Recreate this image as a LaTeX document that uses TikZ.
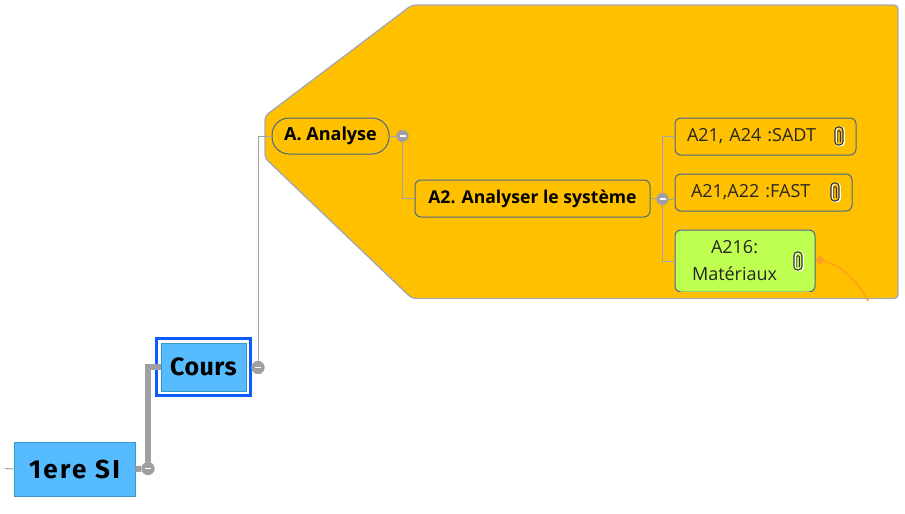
\documentclass[tikz,border=0pt]{standalone}
\usepackage{fontspec}
\setmainfont{Open Sans}
\newfontfamily\comicf[LetterSpace=2]{Fira Sans}
\newfontfamily\comicw[LetterSpace=9]{Fira Sans}
\usetikzlibrary{calc}
\definecolor{zone}{HTML}{FFC000}
\definecolor{zoneline}{HTML}{A9A9A9}
\definecolor{conn}{HTML}{A0A4AE}
\definecolor{edge}{HTML}{47698C}
\definecolor{skyb}{HTML}{57BCFF}
\definecolor{skyedge}{HTML}{3C96C8}
\definecolor{limeb}{HTML}{BEFF50}
\definecolor{selb}{HTML}{0A5CFF}
\definecolor{hot}{HTML}{FF9E20}
\definecolor{greyc}{HTML}{A0A0A2}
\tikzset{
 x=1pt,y=-1pt,
 sub/.style={draw=edge,line width=1pt,rounded corners=6pt,minimum height=37pt,inner sep=0pt,font=\fontsize{18}{21}\selectfont,text=black!85},
 mainb/.style={sub,font=\fontsize{17.6}{21}\selectfont\bfseries,text=black},
 rootb/.style={draw=skyedge,fill=skyb,line width=.8pt,inner sep=0pt},
 link/.style={draw=conn,line width=1pt},
 toggle/.style={circle,fill=greyc,minimum size=12pt,inner sep=0pt,path picture={\draw[white,line width=1.3pt] ($(path picture bounding box.center)+(-3pt,0)$) -- ($(path picture bounding box.center)+(3pt,0)$);}},
 clip/.pic={
  \draw[white,line width=1.6pt,rounded corners=3pt] (-3,-8.5) rectangle (5,9.5);
  \draw[black!80,line width=1.1pt,rounded corners=3.5pt] (-4,-9) rectangle (4,9);
  \draw[black!80,line width=.9pt,rounded corners=1.2pt] (-1.3,6) -- (-1.3,-5.5) -- (1.3,-5.5) -- (1.3,6);
 }
}
\begin{document}
\begin{tikzpicture}
\useasboundingbox (0,0) rectangle (905,514);
\draw[zoneline,fill=zone,line width=1.4pt,rounded corners=4pt]
  (412,5) -- (898,5) -- (898,298.5) -- (412,298.5) -- (265,158) -- (265,116) -- cycle;

\node[mainb,rounded corners=17pt,minimum width=117pt,minimum height=36pt,font=\fontsize{18}{21}\selectfont\bfseries] (ana) at (330.5,136) {A. Analyse};
\node[mainb,minimum width=235pt] (sys) at (532.5,198.5) {A2. Analyser le système};
\node[sub,minimum width=181pt,text width=181pt,align=left] (sadt) at (765.5,136.5) {\hspace{12pt}A21, A24 :SADT};
\node[sub,minimum width=177pt,text width=177pt,align=left] (fast) at (763.5,192.5) {\hspace{16pt}A21,A22 :FAST};
\node[sub,fill=limeb,minimum width=140pt,minimum height=62pt,text width=140pt,align=left,
      font=\fontsize{18}{27}\selectfont] (mat) at (745,261) {\hspace{36pt}A216:\\\hspace{17pt}Matériaux};
\fill[zone] (675.5,291.5) rectangle (815,294);

\node[rootb,minimum width=85pt,minimum height=48pt,font=\fontsize{25}{29}\selectfont\comicf\bfseries] (cours) at (203.5,367) {Cours};
\node[draw=selb,line width=3pt,minimum width=93.5pt,minimum height=57pt,inner sep=0pt] (sel) at (203.5,367) {};
\node[rootb,minimum width=121pt,minimum height=54pt,font=\fontsize{26}{30}\selectfont\comicw\bfseries] (root) at (74.5,469) {1ere SI};

\node[toggle] (tana) at (402.5,136) {};
\node[toggle] (tsys) at (662.5,199) {};
\node[toggle,minimum size=13pt] (tcours) at (258,367.5) {};
\node[toggle,minimum size=13pt] (troot) at (148,468.5) {};
\coordinate (stub) at (5,468.5);

\draw[link] (ana.east) -- (tana);
\draw[link] (tana) |- (sys.west);
\draw[link] (sys.east) -- (tsys);
\draw[link] (tsys) |- (sadt.west);
\draw[link] (tsys) -- (fast.west |- tsys);
\draw[link] (tsys) |- (mat.west);
\draw[link] (tcours.north) |- (ana.west);
\draw[draw=greyc,line width=2pt] (sel.east) -- (tcours);
\draw[draw=greyc,line width=6pt] (root.east) -- (troot);
\draw[draw=greyc,line width=6pt] (troot) |- (cours.west);
\draw[draw=greyc,line width=1pt] (stub) -- (root.west);
\node[toggle] at (tana) {};
\node[toggle] at (tsys) {};
\node[toggle,minimum size=13pt] at (tcours) {};
\node[toggle,minimum size=13pt] at (troot) {};

\pic at (839,136) {clip};
\pic at (835,192) {clip};
\pic at (798,261) {clip};

\node[circle,fill=hot,minimum size=8pt,inner sep=0pt] (hotdot) at (820,260) {};
\coordinate (hotend) at (868,301);
\draw[hot,line width=1.5pt] (hotdot) .. controls (842,266) and (858,281) .. (hotend);
\end{tikzpicture}
\end{document}
